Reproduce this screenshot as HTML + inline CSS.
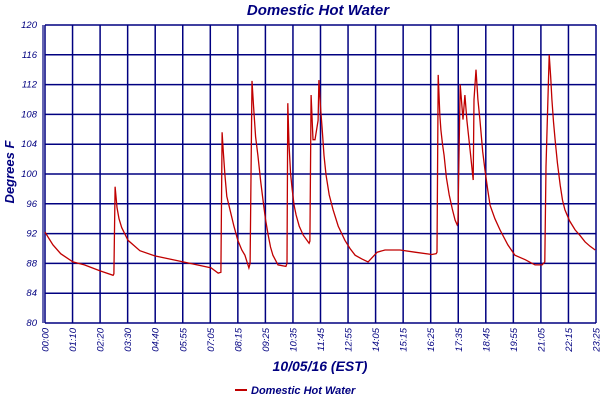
<!DOCTYPE html>
<html><head><meta charset="utf-8"><style>
body{margin:0;background:#fff;width:600px;height:400px;overflow:hidden}
svg{display:block;font-family:"Liberation Sans",sans-serif}
</style></head><body>
<svg id="chart" width="600" height="400">
<text x="318" y="15" text-anchor="middle" font-size="15" font-weight="bold" font-style="italic" fill="#000080">Domestic Hot Water</text>
<text transform="translate(14,172) rotate(-90)" text-anchor="middle" font-size="13" font-weight="bold" font-style="italic" fill="#000080">Degrees F</text>
<text x="320" y="371" text-anchor="middle" font-size="14" font-weight="bold" font-style="italic" fill="#000080">10/05/16 (EST)</text>
<g>
<line x1="235" y1="390" x2="247" y2="390" stroke="#c00000" stroke-width="2"/>
<text x="251" y="394" font-size="11" font-weight="bold" font-style="italic" fill="#000080">Domestic Hot Water</text>
</g>
<g id="grid"></g><g id="series"></g>
</svg>
<script>
const yTicks=[80,84,88,92,96,100,104,108,112,116,120];
const xTickLabels=["00:00","01:10","02:20","03:30","04:40","05:55","07:05","08:15","09:25","10:35","11:45","12:55","14:05","15:15","16:25","17:35","18:45","19:55","21:05","22:15","23:25"];
const times=[0,20,40,71,100,140,173,175,178,183,188,195,211,241,279,351,422,440,447,450,453,457,462,470,480,490,500,508,518,521,526,530,535,541,548,554,560,567,573,579,592,612,615,617,620,624,628,633,638,646,656,671,673,676,681,686,694,696,700,704,709,714,722,732,745,762,775,788,805,821,828,844,864,902,940,983,994,996,999,1003,1006,1010,1014,1020,1027,1035,1042,1047,1049,1052,1055,1062,1067,1072,1080,1088,1090,1095,1100,1105,1112,1118,1125,1131,1143,1156,1176,1194,1220,1245,1263,1270,1273,1281,1285,1288,1292,1296,1302,1309,1315,1321,1333,1347,1360,1372,1385,1398];
const temps=[92.2,90.5,89.3,88.2,87.8,87.0,86.4,86.6,98.3,95.5,94,92.8,91.1,89.7,89.0,88.2,87.4,86.7,86.8,105.6,103,99.9,97,95.2,93,91.1,89.8,89.1,87.4,88.0,112.5,109,105,102.5,99,96.5,94,91.8,90.2,89.1,87.8,87.6,88.0,109.5,104,100,97.9,95.8,94.5,93,91.8,90.7,91.0,110.6,104.6,104.6,107.2,112.6,109,106.2,102.5,99.9,97.2,95.2,93,91.1,90,89.1,88.6,88.2,88.6,89.5,89.8,89.8,89.5,89.2,89.3,89.5,113.3,108,105.9,104,102.5,99.5,97.2,95.3,93.8,93.2,93.5,102.5,112,107.3,110.6,107.2,103.2,99.2,110,114,110,107.3,103,100.5,97.8,95.8,94,92.5,90.5,89.1,88.5,87.8,87.8,88.2,101,116,113,110,107,104.6,101.5,98.5,96.5,95.2,93.7,92.5,91.7,90.9,90.3,89.8];
const L=45,R=596,T=25,B=323;
const xs=t=>L+t/1400*(R-L);
const ys=v=>B-(v-80)/40*(B-T);
const NS="http://www.w3.org/2000/svg";
const g=document.getElementById('grid');
function mk(tag,attrs,parent){const e=document.createElementNS(NS,tag);for(const k in attrs)e.setAttribute(k,attrs[k]);parent.appendChild(e);return e;}
yTicks.forEach(v=>{
 const l=mk('line',{x1:L,x2:R,y1:ys(v),y2:ys(v),stroke:'#000080','stroke-width':1.5},g);
 
 
 const t=mk('text',{x:37,y:ys(v)+3,'text-anchor':'end','font-size':9.5,'font-style':'italic',fill:'#000080'},g);
 t.textContent=v;
 
 
});
xTickLabels.forEach((s,i)=>{
 const x=xs(i*70);
 const l=mk('line',{x1:x,x2:x,y1:T,y2:B,stroke:'#000080','stroke-width':1.5},g);
 
 
 const t=mk('text',{transform:`translate(${x+3.5},${B+5}) rotate(-90)`,'text-anchor':'end','font-size':9.5,'font-style':'italic',fill:'#000080'},g);
 t.textContent=s;
 
 
});
const ax=mk('line',{x1:L-2,x2:L-2,y1:T,y2:B,stroke:'#000080','stroke-width':1.2},g);


const pts=times.map((t,i)=>xs(t).toFixed(1)+','+ys(temps[i]).toFixed(1)).join(' ');
const pl=mk('polyline',{points:pts,fill:'none',stroke:'#c00000','stroke-width':1.3},document.getElementById('series'));


</script>
</body></html>
